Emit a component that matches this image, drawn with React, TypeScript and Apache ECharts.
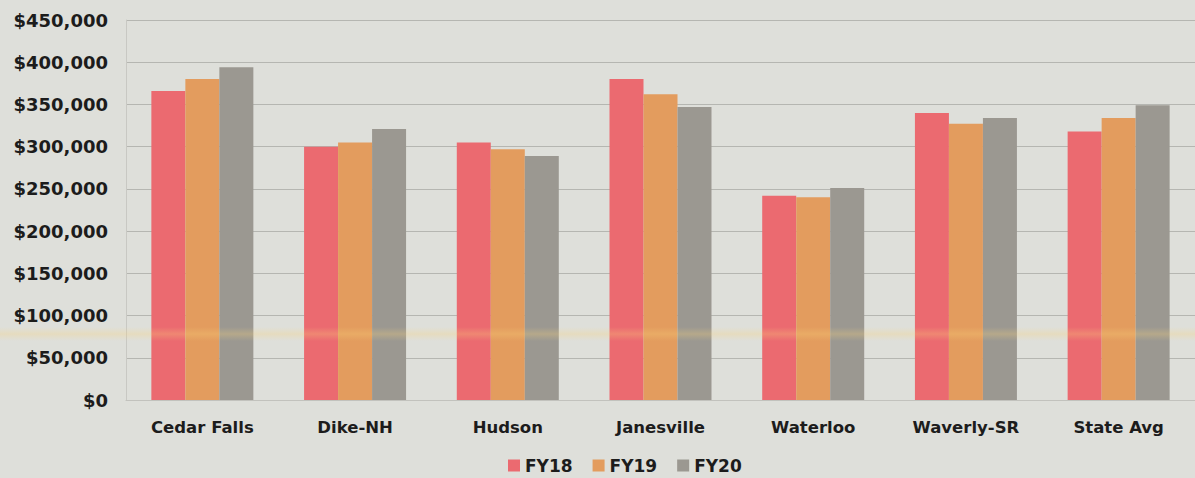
import React, { useEffect, useRef } from "react";
import * as echarts from "echarts";

// Per-district values, FY18–FY20
const districts = ["Cedar Falls", "Dike-NH", "Hudson", "Janesville", "Waterloo", "Waverly-SR", "State Avg"];
const fy18 = [366000, 300000, 305000, 380000, 242000, 340000, 318000];
const fy19 = [380000, 305000, 297000, 362000, 240000, 327000, 334000];
const fy20 = [394000, 321000, 289000, 347000, 251000, 334000, 349000];
const seriesNames = ["FY18", "FY19", "FY20"];
const seriesColors = ["#EB6A70", "#E39C5E", "#9B9891"];

const fmtMoney = (v: number) => "$" + v.toLocaleString("en-US");

export default function App() {
  const ref = useRef<HTMLDivElement>(null);

  useEffect(() => {
    if (!ref.current) return;
    const chart = echarts.init(ref.current, null, { renderer: "svg" });
    const font = "'DejaVu Sans', sans-serif";
    const values = [fy18, fy19, fy20];

    chart.setOption({
      animation: false,
      backgroundColor: "#DEDFDA",
      textStyle: { fontFamily: font },
      grid: { left: 126, top: 20, width: 1097, height: 380, containLabel: false },
      legend: {
        data: seriesNames,
        left: 503,
        top: 452,
        icon: "rect",
        itemWidth: 12,
        itemHeight: 12,
        itemGap: 20,
        textStyle: { fontFamily: font, fontWeight: "bold", fontSize: 17, color: "#1c1c1c" },
      },
      xAxis: {
        type: "category",
        data: districts,
        axisTick: { show: false },
        axisLine: { show: true, lineStyle: { color: "#c2c2bd", width: 1 } },
        axisLabel: {
          margin: 19,
          fontFamily: font,
          fontWeight: "bold",
          fontSize: 16.5,
          color: "#1c1c1c",
        },
      },
      yAxis: {
        type: "value",
        min: 0,
        max: 450000,
        interval: 50000,
        axisLine: { show: true, lineStyle: { color: "#c8c8c3", width: 1 } },
        axisTick: { show: false },
        splitLine: { lineStyle: { color: "rgba(105,105,100,0.35)", width: 1 } },
        axisLabel: {
          margin: 18,
          fontFamily: font,
          fontWeight: "bold",
          fontSize: 18,
          color: "#1c1c1c",
          formatter: (v: number) => fmtMoney(v),
        },
      },
      series: seriesNames.map((name, i) => ({
        name,
        type: "bar",
        data: values[i],
        barWidth: 34,
        barGap: "0%",
        itemStyle: { color: seriesColors[i] },
      })),
      graphic: [
        {
          // faint warm streak across the lower part of the plot
          type: "rect",
          z: 100,
          silent: true,
          shape: { x: 0, y: 327, width: 1195, height: 14 },
          style: {
            fill: new echarts.graphic.LinearGradient(0, 0, 0, 1, [
              { offset: 0, color: "rgba(250,215,130,0)" },
              { offset: 0.5, color: "rgba(250,210,120,0.28)" },
              { offset: 1, color: "rgba(250,215,130,0)" },
            ]),
          },
        },
      ],
    });

    return () => chart.dispose();
  }, []);

  return (
    <div
      ref={ref}
      style={{ position: "fixed", left: 0, top: 0, width: 1195, height: 478 }}
    />
  );
}
